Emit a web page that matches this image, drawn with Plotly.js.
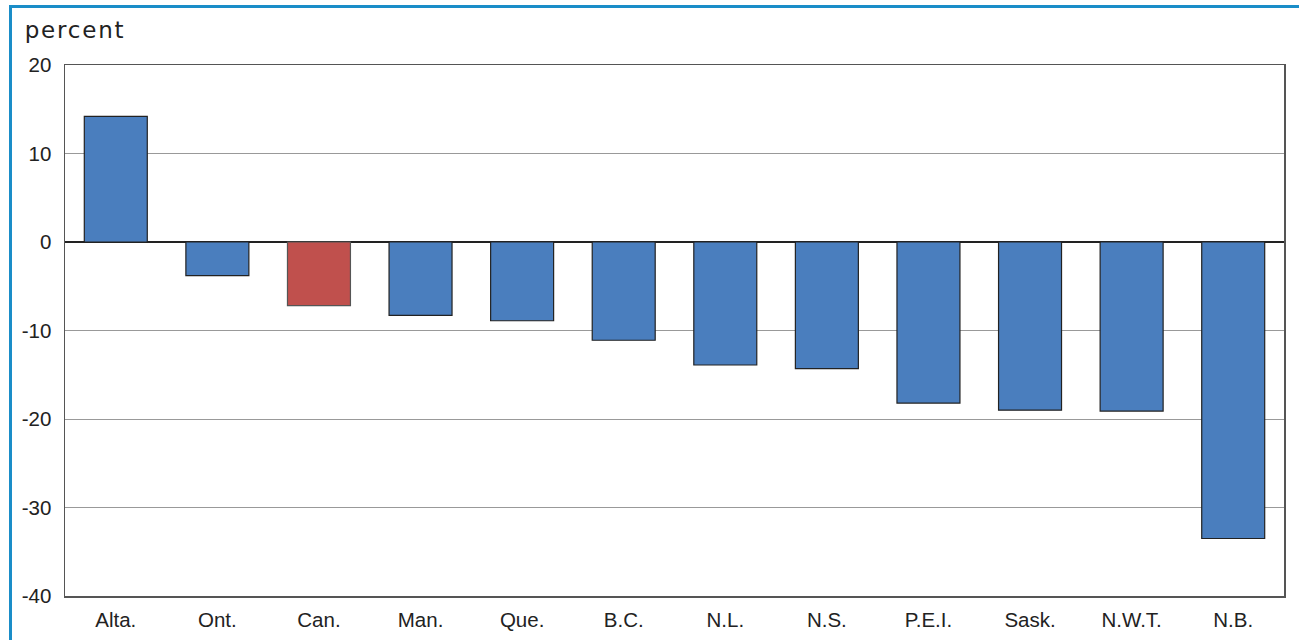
<!DOCTYPE html>
<html><head><meta charset="utf-8">
<script src="https://cdn.plot.ly/plotly-3.0.1.min.js"></script>
<style>
html,body{margin:0;padding:0;background:#fff;}
#wrap{position:relative;width:1299px;height:640px;overflow:hidden;}
#frame{position:absolute;left:9px;top:5px;width:1400px;height:700px;border-top:3px solid #1a8dc8;border-left:3px solid #1a8dc8;box-sizing:border-box;pointer-events:none;z-index:5;}
#chart{position:absolute;left:0;top:0;width:1299px;height:640px;}
#chart .annotation-text{letter-spacing:1.8px;}
</style></head>
<body><div id="wrap"><div id="chart"></div><div id="frame"></div></div>
<script>
const categories = ["Alta.","Ont.","Can.","Man.","Que.","B.C.","N.L.","N.S.","P.E.I.","Sask.","N.W.T.","N.B."];
const values = [14.2,-3.8,-7.2,-8.3,-8.9,-11.1,-13.9,-14.3,-18.2,-19.0,-19.1,-33.5];
const highlight = "Can.";
const yTicks = [-40,-30,-20,-10,0,10,20];
const unitLabel = "percent";

const colors = categories.map(c => c === highlight ? "#c0504d" : "#4a7ebe");
const lineColors = categories.map(c => c === highlight ? "#555" : "#222");

const trace = {
  type: "bar", x: categories, y: values,
  marker: {color: colors, line: {color: lineColors, width: 1.2}},
  hoverinfo: "x+y"
};
const font = {family: "Liberation Sans, Arial, sans-serif", size: 20.5, color: "#222"};
const layout = {
  width: 1299, height: 640,
  margin: {l: 65, r: 15, t: 65, b: 44},
  paper_bgcolor: "#fff", plot_bgcolor: "#fff",
  bargap: 0.38, showlegend: false, font: font,
  xaxis: {type: "category", showgrid: false, zeroline: false, ticks: "", showline: true, linecolor: "#555", linewidth: 1.5, mirror: true, tickfont: font, ticklabelstandoff: 5},
  yaxis: {range: [-40, 20], tickvals: yTicks, ticktext: yTicks.map(String), showgrid: true, gridcolor: "#999", gridwidth: 1, zeroline: true, zerolinecolor: "#222", zerolinewidth: 2.5, showline: true, linecolor: "#555", linewidth: 1.5, mirror: true, ticks: "", ticklabelstandoff: 8, tickfont: font},
  annotations: [{text: unitLabel, xref: "paper", yref: "paper", x: -0.0294, y: 1.066, xanchor: "left", yanchor: "middle", showarrow: false, font: {family: "DejaVu Sans, sans-serif", size: 23, color: "#222"}}]
};
Plotly.newPlot("chart", [trace], layout, {displayModeBar: false, staticPlot: true});
</script></body></html>
